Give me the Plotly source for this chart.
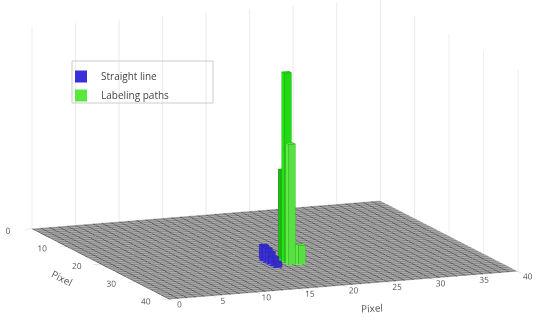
import numpy as np
import plotly.graph_objects as go

GRID = list(range(0, 41))
X_TICKS = [0, 5, 10, 15, 20, 25, 30, 35, 40]
Y_TICKS = [0, 10, 20, 30, 40]

green_x = [18.4, 18.4, 18.3, 19.3]
green_y = [25.0, 26.0, 27.4, 27.8]
green_h = [45, 94, 60, 10]
green_colors = ["#22b818", "#22e612", "#5cec44", "#5cec44"]

blue_x = [16.4, 16.4, 16.4, 16.4, 16.4]
blue_y = [24.5, 25.5, 26.4, 27.4, 28.3]
blue_h = [8, 7.5, 6.4, 4.8, 3]

LEGEND = ["Straight line", "Labeling paths"]
AXIS_TITLE = "Pixel"
BAR_W = 0.8


def cuboids(xs, ys, hs, w=BAR_W):
    vx, vy, vz, i, j, k = [], [], [], [], [], []
    ex, ey, ez = [], [], []
    faces = [(0,1,2),(0,2,3),(4,5,6),(4,6,7),(0,1,5),(0,5,4),(1,2,6),(1,6,5),(2,3,7),(2,7,6),(3,0,4),(3,4,7)]
    edges = [0,1,2,3,0,4,5,6,7,4,None,1,5,None,2,6,None,3,7,None]
    for x, y, h in zip(xs, ys, hs):
        n = len(vx)
        for zz in (0, h):
            for dx, dy in ((0,0),(w,0),(w,w),(0,w)):
                vx.append(x+dx); vy.append(y+dy); vz.append(zz)
        for a, b, c in faces:
            i.append(n+a); j.append(n+b); k.append(n+c)
        for e in edges:
            ex.append(None if e is None else vx[n+e])
            ey.append(None if e is None else vy[n+e])
            ez.append(None if e is None else vz[n+e])
    return vx, vy, vz, i, j, k, ex, ey, ez


def bars(xs, ys, hs, color, edge, name):
    vx, vy, vz, i, j, k, ex, ey, ez = cuboids(xs, ys, hs)
    return [
        go.Mesh3d(x=vx, y=vy, z=vz, i=i, j=j, k=k, color=color, flatshading=True,
                  lighting=dict(ambient=0.95, diffuse=0.25, specular=0, roughness=1),
                  lightposition=dict(x=1000, y=-5000, z=3000), showlegend=False, hoverinfo="skip", name=name),
        go.Scatter3d(x=ex, y=ey, z=ez, mode="lines", line=dict(color=edge, width=1),
                     showlegend=False, hoverinfo="skip"),
    ]


fig = go.Figure()
floor = np.zeros((len(GRID), len(GRID)))
fig.add_trace(go.Surface(
    x=GRID, y=GRID, z=floor, showscale=False, hoverinfo="skip",
    colorscale=[[0, "#8c8c8c"], [1, "#8c8c8c"]],
    lighting=dict(ambient=1, diffuse=0, specular=0),
    contours=dict(
        x=dict(show=True, start=0, end=40, size=1, color="#333333", width=1),
        y=dict(show=True, start=0, end=40, size=1, color="#c8c8c8", width=1),
    ),
))
for t in bars(blue_x, blue_y, blue_h, "#3a2fd8", "#28209a", LEGEND[0]):
    fig.add_trace(t)
for gx, gy, gh, gc in zip(green_x, green_y, green_h, green_colors):
    for t in bars([gx], [gy], [gh], gc, "#2c8f20", LEGEND[1]):
        fig.add_trace(t)

for name, c in zip(LEGEND, ["#3a2fd8", "#5ae83f"]):
    fig.add_trace(go.Scatter(x=[None], y=[None], mode="markers", name=name,
                             marker=dict(symbol="square", size=12, color=c, line=dict(color="#999999", width=0))))

axis_font = dict(family="Open Sans", size=10, color="#555555")
common = dict(showbackground=False, showline=True, linecolor="#aaaaaa", gridcolor="#ececec",
              ticks="outside", ticklen=8, tickcolor="#aaaaaa", zeroline=False, showspikes=False,
              tickfont=axis_font, tickangle=0)
fig.update_layout(
    width=550, height=320, margin=dict(l=0, r=0, t=0, b=0), paper_bgcolor="white",
    xaxis=dict(visible=False), yaxis=dict(visible=False), plot_bgcolor="rgba(0,0,0,0)",
    font=dict(family="Open Sans", color="#444444"),
    legend=dict(x=61/550, y=1-62/320, xanchor="left", yanchor="top", bgcolor="rgba(0,0,0,0)",
                borderwidth=0, font=dict(size=10, family="Open Sans", color="#444444"),
                itemsizing="constant", tracegroupgap=0),
    shapes=[dict(type="rect", xref="paper", yref="paper", x0=72/550, x1=213/550, y0=1-61/320, y1=1-103/320,
                 line=dict(color="#cccccc", width=1), fillcolor="rgba(0,0,0,0)", layer="above")],
    annotations=[
        dict(text=AXIS_TITLE, xref="paper", yref="paper", x=372/550, y=1-308/320, showarrow=False,
             xanchor="center", yanchor="middle", textangle=-3, font=axis_font),
        dict(text=AXIS_TITLE, xref="paper", yref="paper", x=62/550, y=1-278/320, showarrow=False,
             xanchor="center", yanchor="middle", textangle=27, font=axis_font),
    ],
    scene=dict(
        domain=dict(x=[0, 1], y=[0, 1]),
        aspectmode="manual", aspectratio=dict(x=2.34, y=2.34, z=1.29),
        xaxis=dict(range=[0, 40], tickvals=X_TICKS, title=dict(text=""), **common),
        yaxis=dict(range=[40, 0], tickvals=Y_TICKS, title=dict(text=""), **common),
        zaxis=dict(range=[0, 100], visible=False),
        camera=dict(
            projection=dict(type="orthographic"),
            eye=dict(x=-0.36*1.9, y=-0.91*1.9, z=0.166*1.9),
            up=dict(x=0, y=0, z=1),
            center=dict(x=0, y=0, z=-0.07),
        ),
    ),
)
fig.write_html("out.html", post_script="document.body.style.margin='0';",
               config=dict(displayModeBar=False))
